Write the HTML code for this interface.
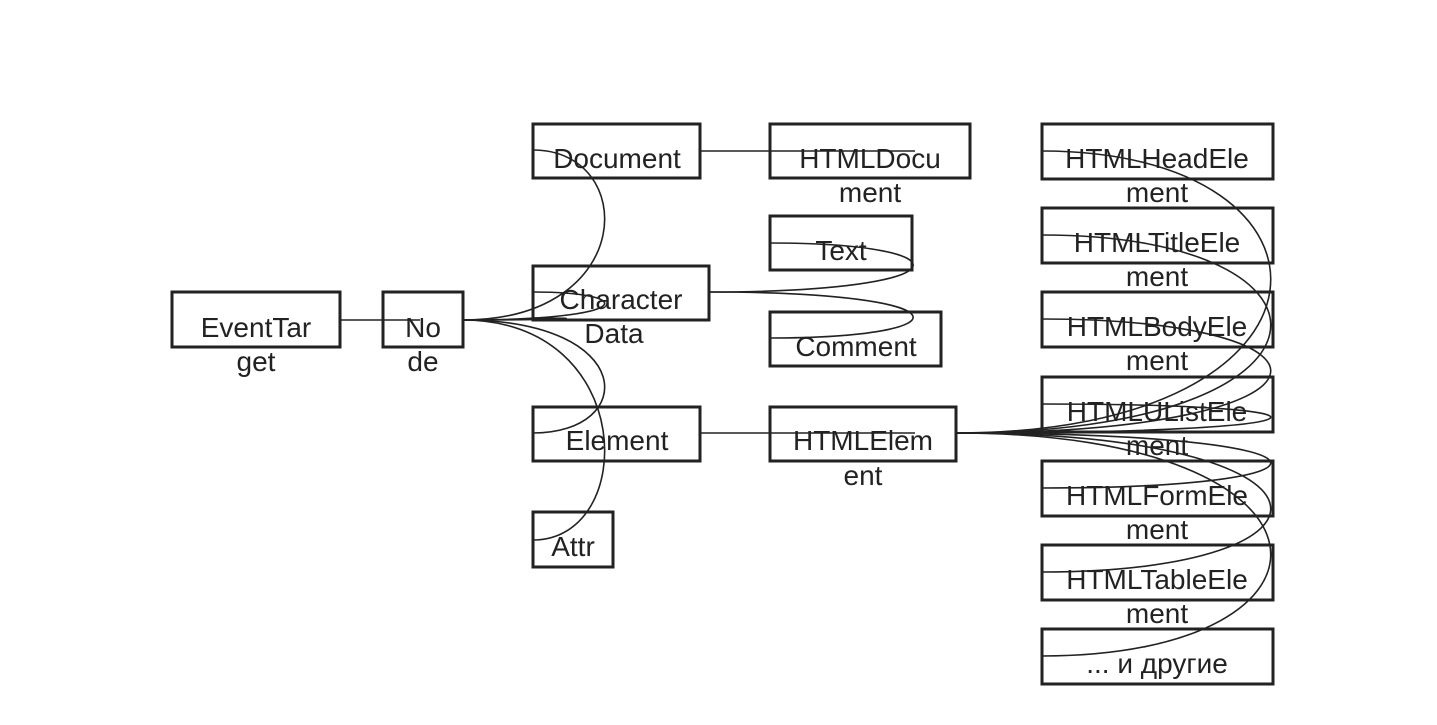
<!DOCTYPE html>
<html><head><meta charset="utf-8"><style>
html,body{margin:0;padding:0;background:#fff;}
svg{display:block;}
text{font-family:"Liberation Sans","DejaVu Sans",sans-serif;font-size:28px;fill:#222;text-anchor:middle;}
rect{fill:none;stroke:#222;stroke-width:3;}
path{fill:none;stroke:#222;stroke-width:1.6;}
</style></head><body>
<svg width="1437" height="725" viewBox="0 0 1437 725">
<rect x="172" y="292" width="168" height="55"/>
<rect x="383" y="292" width="80" height="55"/>
<rect x="533" y="124" width="167" height="54"/>
<rect x="533" y="266" width="176" height="54"/>
<rect x="533" y="407" width="167" height="54"/>
<rect x="533" y="512" width="80" height="55"/>
<rect x="770" y="124" width="200" height="54"/>
<rect x="770" y="216" width="142" height="54"/>
<rect x="770" y="312" width="171" height="54"/>
<rect x="770" y="407" width="186" height="54"/>
<rect x="1042" y="124" width="231" height="55"/>
<rect x="1042" y="208" width="231" height="55"/>
<rect x="1042" y="292" width="231" height="55"/>
<rect x="1042" y="377" width="231" height="55"/>
<rect x="1042" y="461" width="231" height="55"/>
<rect x="1042" y="545" width="231" height="55"/>
<rect x="1042" y="629" width="231" height="55"/>

<path d="M340,320 L420,320"/>
<path d="M463,320 C638,320 638,150 533,150"/>
<path d="M463,320 C638,320 638,292 533,292"/>
<path d="M463,320 C560,320 600,318 533,318"/>
<path d="M463,320 C638,320 638,433 533,433"/>
<path d="M463,320 C638,320 638,540 533,540"/>
<path d="M700,151 L915,151"/>
<path d="M700,433 L915,433"/>
<path d="M709,292 C970,292 970,243 770,243"/>
<path d="M709,292 C970,292 970,338 770,338"/>
<path d="M956,433 C1360,433 1360,151 1042,151"/>
<path d="M956,433 C1360,433 1360,235 1042,235"/>
<path d="M956,433 C1360,433 1360,319 1042,319"/>
<path d="M956,433 C1360,433 1360,404 1042,404"/>
<path d="M956,433 C1360,433 1360,488 1042,488"/>
<path d="M956,433 C1360,433 1360,572 1042,572"/>
<path d="M956,433 C1360,433 1360,656 1042,656"/>

<text x="256" y="337">EventTar</text><text x="256" y="371">get</text>
<text x="423" y="337">No</text><text x="423" y="371">de</text>
<text x="617" y="168">Document</text>
<text x="621" y="309">Character</text><text x="614" y="343">Data</text>
<text x="617" y="450">Element</text>
<text x="573" y="556">Attr</text>
<text x="870" y="168">HTMLDocu</text><text x="870" y="202">ment</text>
<text x="841" y="260">Text</text>
<text x="856" y="356">Comment</text>
<text x="863" y="450">HTMLElem</text><text x="863" y="485">ent</text>
<text x="1157" y="168">HTMLHeadEle</text><text x="1157" y="202">ment</text>
<text x="1157" y="252">HTMLTitleEle</text><text x="1157" y="286">ment</text>
<text x="1157" y="336">HTMLBodyEle</text><text x="1157" y="370">ment</text>
<text x="1157" y="421">HTMLUListEle</text><text x="1157" y="455">ment</text>
<text x="1157" y="505">HTMLFormEle</text><text x="1157" y="539">ment</text>
<text x="1157" y="589">HTMLTableEle</text><text x="1157" y="623">ment</text>
<text x="1157" y="673">... и другие</text>
</svg>
</body></html>
